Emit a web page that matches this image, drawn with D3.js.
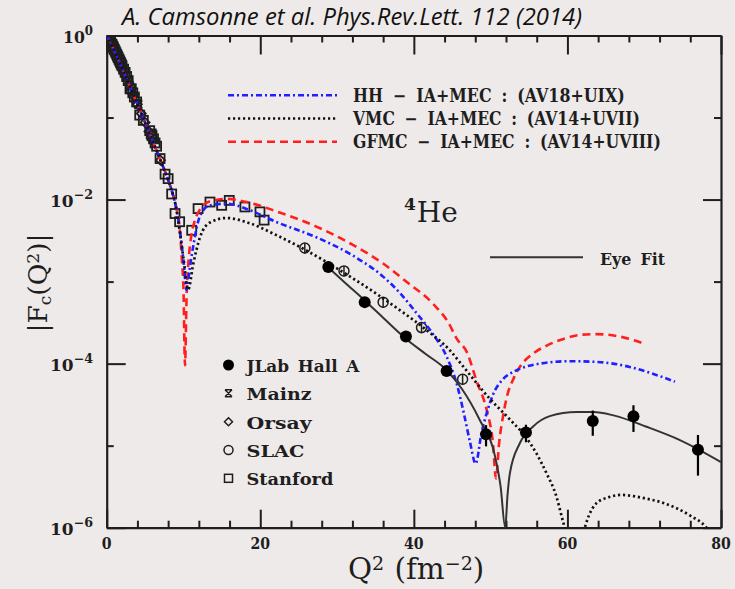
<!DOCTYPE html>
<html>
<head>
<meta charset="utf-8">
<script src="https://cdn.jsdelivr.net/npm/d3@7"></script>
<style>
  html, body { margin: 0; padding: 0; background: #efeaea; }
  svg { display: block; }
</style>
</head>
<body>
<svg id="chart" width="735" height="589"></svg>
<script>
// ---------------- data ----------------
const xMajorTicks = [0, 20, 40, 60, 80];
const xTickLabels = ["0", "20", "40", "60", "80"];
const xMinorTicks = [4, 8, 12, 16, 24, 28, 32, 36, 44, 48, 52, 56, 64, 68, 72, 76];
const yMajorTicks = [1, 1e-2, 1e-4, 1e-6];
const yTickExponents = ["0", "\u22122", "\u22124", "\u22126"];
const yMinorTicks = [1e-1, 1e-3, 1e-5];

const theoryLabels = ["HH \u2212 IA+MEC : (AV18+UIX)",
                      "VMC \u2212 IA+MEC : (AV14+UVII)",
                      "GFMC \u2212 IA+MEC : (AV14+UVIII)"];
const dataLabels = ["JLab Hall A", "Mainz", "Orsay", "SLAC", "Stanford"];

// HH - IA+MEC (AV18+UIX), blue dash-dot
const hhQ2 = [0,1,2,3,4,5,6,7,8,8.5,9,9.5,10.0,10.4,10.8,11.3,12.15,13.45,15.6,18.66,22,27.3,32,36,38.2,40.4,42.5,44.3,45.6,46.5,47.3,48.05,48.8,49.5,50.3,51.5,52.95,54.5,56.4,60.3,63.8,68.1,71,74];
const hhF  = [1,0.646,0.398,0.240,0.145,0.0871,0.0513,0.0302,0.0174,0.0126,0.00832,0.00447,1.78e-3,7.94e-4,1.41e-3,2.82e-3,6.31e-3,8.51e-3,8.91e-3,7.41e-3,5.37e-3,3.47e-3,2.09e-3,1.15e-3,7.24e-4,4.07e-4,2.29e-4,1.20e-4,5.62e-5,2.51e-5,1.12e-5,6.03e-6,1.41e-5,2.51e-5,4.17e-5,6.31e-5,7.94e-5,9.12e-5,1.0e-4,1.07e-4,1.05e-4,9.12e-5,7.59e-5,6.03e-5];

// VMC - IA+MEC (AV14+UVII), black dotted (two lobes)
const vmcQ2 = [0,1,2,3,4,5,6,7,8,8.5,9,9.5,10.0,10.6,11.28,12.15,13.45,15.6,18.66,22,25.6,31.7,35,38.2,41.5,44.7,46.3,49.9,52.5,54.7,56.0,57.3,58.5,59.5,59.8];
const vmcF  = [1,0.646,0.398,0.240,0.145,0.0871,0.0513,0.0302,0.0174,0.0126,0.00832,4.17e-3,1.91e-3,7.94e-4,1.66e-3,3.47e-3,5.25e-3,5.96e-3,5.13e-3,3.72e-3,2.51e-3,1.15e-3,7.24e-4,4.47e-4,2.63e-4,1.45e-4,9.55e-5,3.72e-5,2.09e-5,1.23e-5,7.94e-6,4.57e-6,2.51e-6,1.12e-6,8.91e-7];
const vmc2Q2 = [62.1,62.8,63.8,65.3,67.05,70,72.5,75.95,78.1,78.5];
const vmc2F  = [8.91e-7,1.41e-6,2.0e-6,2.34e-6,2.51e-6,2.29e-6,2.0e-6,1.41e-6,1.0e-6,8.91e-7];

// GFMC - IA+MEC (AV14+UVIII), red dashed
const gfmcQ2 = [0,1,2,3,4,5,6,7,8,8.5,9,9.5,9.8,10.0,10.2,10.4,10.7,11.0,11.5,12.15,13.45,15.6,18.66,22,27.3,32,36,39,42.5,44.5,45.6,46.9,48.2,49.5,50.3,50.7,51.1,51.6,52.1,53.0,53.8,55.5,57.3,59.5,61.6,63.8,67.3,70.1];
const gfmcF  = [1,0.646,0.398,0.240,0.145,0.0871,0.0513,0.0302,0.0174,0.0126,0.00832,0.00447,1.78e-3,7.94e-4,9.55e-5,6.31e-4,2.0e-3,3.55e-3,5.62e-3,7.59e-3,9.55e-3,1.02e-2,9.12e-3,7.24e-3,4.68e-3,2.82e-3,1.66e-3,1.0e-3,5.37e-4,3.16e-4,2.0e-4,1.38e-4,6.03e-5,2.69e-5,1.07e-5,3.98e-6,1.07e-5,2.24e-5,3.89e-5,6.61e-5,9.12e-5,1.32e-4,1.66e-4,2.0e-4,2.24e-4,2.29e-4,2.09e-4,1.74e-4];

// Eye Fit, solid
const eyeQ2 = [28.9,31,33.6,36,39,41.5,44.27,46.2,48.6,50.5,51.3,51.9,52.2,52.5,53.8,55.5,57.7,61.2,63.4,66,70.3,74.65,80];
const eyeF  = [1.48e-3,9.77e-4,5.89e-4,3.63e-4,2.0e-4,1.32e-4,8.32e-5,5.01e-5,2.04e-5,7.94e-6,3.16e-6,1.0e-6,2.51e-6,4.57e-6,1.07e-5,1.70e-5,2.29e-5,2.57e-5,2.57e-5,2.34e-5,1.70e-5,1.17e-5,6.31e-6];

// JLab Hall A (filled circles with error bars)
const jlabQ2  = [28.86,33.6,38.97,44.27,49.4,54.6,63.3,68.6,77.0];
const jlabF   = [1.51e-3,5.62e-4,2.14e-4,8.13e-5,1.38e-5,1.45e-5,2.0e-5,2.29e-5,8.91e-6];
const jlabErr = [7.5e-5,2.8e-5,1.1e-5,5e-6,4e-6,3.5e-6,6.8e-6,8.2e-6,4.6e-6];

// SLAC (open circles with error bars)
const slacQ2  = [25.8,30.9,36.0,41.0,46.35];
const slacF   = [2.57e-3,1.35e-3,5.62e-4,2.75e-4,6.46e-5];
const slacErr = [3.8e-4,2.0e-4,8.4e-5,4.1e-5,9.7e-6];

// Stanford (open squares)
const stanQ2 = [0.1,0.2,0.3,0.4,0.5,0.6,0.7,0.8,0.9,1.0,1.1,1.2,1.3,1.4,1.5,1.6,1.7,1.8,1.9,2.0,2.2,2.4,2.6,2.8,3.03,3.2,3.4,3.6,3.9,4.3,4.77,5.6,5.8,5.9,6.1,6.3,6.5,6.95,7.6,8.0,8.46,8.9,9.5,11.07,11.9,13.45,14.97,15.96,18.0,19.96,20.5];
const stanF  = [0.977,0.955,0.912,0.891,0.851,0.794,0.776,0.741,0.708,0.676,0.646,0.617,0.589,0.562,0.537,0.513,0.490,0.468,0.447,0.427,0.389,0.355,0.316,0.282,0.224,0.224,0.200,0.178,0.155,0.107,0.0923,0.0692,0.0631,0.0603,0.0550,0.0490,0.0447,0.0316,0.0204,0.0180,0.0117,0.00676,0.00537,0.00422,0.00776,0.00933,0.00851,0.00977,0.00813,0.00708,0.00562];

// Mainz and Orsay (inside the low-Q2 band)
const mainzQ2 = [0.25,0.5,0.75,1.0,1.25,1.5,1.75,2.0,2.25,2.5,2.75,3.0,3.3,3.7,4.1];
const mainzF  = [0.933,0.832,0.759,0.661,0.603,0.525,0.468,0.407,0.363,0.324,0.282,0.245,0.209,0.174,0.145];
const orsayQ2 = [3.5,4.0,4.5,5.0,5.5,6.0,7.0];
const orsayF  = [0.186,0.145,0.112,0.0871,0.0676,0.0525,0.0302];

// ---------------- drawing ----------------
const W = 735, H = 589;
const X0 = 106.7, X1 = 721, Y0 = 35.5, Y1 = 527.7;
const SERIF = "'DejaVu Serif', 'Liberation Serif', serif";
const INK = "#1e1e1e";

const svg = d3.select("#chart");
svg.append("rect").attr("width", W).attr("height", H).attr("fill", "#efeaea");

const x = d3.scaleLinear().domain([0, 80]).range([X0, X1]);
const y = d3.scaleLog().domain([1e-6, 1]).range([Y1, Y0]);

function fitWidth(sel, w) {
  const cur = sel.node().getComputedTextLength();
  const fs = parseFloat(sel.attr("font-size"));
  if (cur > 0) sel.attr("font-size", (fs * w / cur).toFixed(2));
  return sel;
}
// text at a fixed font size, horizontally squeezed to a target width
function boxText(parent, px, py, anchor, size, weight, targetW, build) {
  const g = parent.append("g").attr("transform", `translate(${px},${py})`);
  const t = g.append("text").attr("x", 0).attr("y", 0).attr("text-anchor", anchor)
    .attr("font-family", SERIF).attr("font-weight", weight).attr("font-size", size)
    .attr("fill", INK);
  build(t);
  const w = t.node().getComputedTextLength();
  if (targetW && w > 0) g.attr("transform", `translate(${px},${py}) scale(${(targetW / w).toFixed(4)},1)`);
  return t;
}

svg.append("clipPath").attr("id", "plotclip").append("rect")
  .attr("x", X0).attr("y", Y0).attr("width", X1 - X0).attr("height", Y1 - Y0);

// ---- axes (ticks inward, on all four sides) ----
function styleAxis(g, keepDomain) {
  g.selectAll("line").attr("stroke", INK).attr("stroke-width", 2);
  g.select(".domain").attr("stroke", INK).attr("stroke-width", 2.2);
  if (!keepDomain) g.select(".domain").remove();
  g.selectAll("text").remove();
}
const axes = svg.append("g");
axes.append("g").attr("transform", `translate(0,${Y1})`)
  .call(d3.axisBottom(x).tickValues(xMajorTicks).tickSize(-18).tickSizeOuter(0).tickFormat(""))
  .call(g => styleAxis(g, true));
axes.append("g").attr("transform", `translate(0,${Y1})`)
  .call(d3.axisBottom(x).tickValues(xMinorTicks).tickSize(-7).tickSizeOuter(0).tickFormat(""))
  .call(g => styleAxis(g, false));
axes.append("g").attr("transform", `translate(0,${Y0})`)
  .call(d3.axisTop(x).tickValues(xMajorTicks).tickSize(-19).tickSizeOuter(0).tickFormat(""))
  .call(g => styleAxis(g, true));
axes.append("g").attr("transform", `translate(0,${Y0})`)
  .call(d3.axisTop(x).tickValues(xMinorTicks).tickSize(-7).tickSizeOuter(0).tickFormat(""))
  .call(g => styleAxis(g, false));
axes.append("g").attr("transform", `translate(${X0},0)`)
  .call(d3.axisLeft(y).tickValues(yMajorTicks).tickSize(-19).tickSizeOuter(0).tickFormat(""))
  .call(g => styleAxis(g, true));
axes.append("g").attr("transform", `translate(${X0},0)`)
  .call(d3.axisLeft(y).tickValues(yMinorTicks).tickSize(-7).tickSizeOuter(0).tickFormat(""))
  .call(g => styleAxis(g, false));
axes.append("g").attr("transform", `translate(${X1},0)`)
  .call(d3.axisRight(y).tickValues(yMajorTicks).tickSize(-18).tickSizeOuter(0).tickFormat(""))
  .call(g => styleAxis(g, true));
axes.append("g").attr("transform", `translate(${X1},0)`)
  .call(d3.axisRight(y).tickValues(yMinorTicks).tickSize(-7).tickSizeOuter(0).tickFormat(""))
  .call(g => styleAxis(g, false));

// tick labels
xMajorTicks.forEach((v, i) => {
  boxText(svg, x(v), Y1 + 21.5, "middle", 16, "bold", null, t => t.text(xTickLabels[i]))
    .attr("transform", "scale(0.88,1)");
});
yMajorTicks.forEach((v, i) => {
  boxText(svg, 93, y(v) + 7, "end", 16, "bold", i === 0 ? 30 : 43, t => {
    t.append("tspan").text("10");
    t.append("tspan").attr("dy", -8).attr("font-size", 12).text(yTickExponents[i]);
  });
});

// axis titles
const xt = svg.append("text").attr("x", 348).attr("y", 579)
  .attr("font-family", SERIF).attr("font-size", 20).attr("fill", INK);
xt.append("tspan").text("Q");
xt.append("tspan").attr("dy", "-0.45em").attr("font-size", "0.65em").text("2");
xt.append("tspan").attr("dy", "0.29em").attr("dx", "0.35em").text("(fm");
xt.append("tspan").attr("dy", "-0.45em").attr("font-size", "0.65em").text("\u22122");
xt.append("tspan").attr("dy", "0.29em").text(")");
fitWidth(xt, 126);

const yt = svg.append("text").attr("transform", "translate(47,283) rotate(-90)")
  .attr("text-anchor", "middle").attr("font-family", SERIF).attr("font-size", 20).attr("fill", INK);
yt.append("tspan").text("|F");
yt.append("tspan").attr("dy", "0.25em").attr("font-size", "0.65em").text("c");
yt.append("tspan").attr("dy", "-0.16em").text("(Q");
yt.append("tspan").attr("dy", "-0.45em").attr("font-size", "0.65em").text("2");
yt.append("tspan").attr("dy", "0.29em").text(")|");
fitWidth(yt, 99);

// title
const title = svg.append("text").attr("x", 122).attr("y", 25)
  .attr("font-family", "'Open Sans', sans-serif").attr("font-style", "italic")
  .attr("font-size", 19).attr("fill", "#111").text("A. Camsonne et al. Phys.Rev.Lett. 112 (2014)");
fitWidth(title, 460);

// ---- plot content ----
const plot = svg.append("g").attr("clip-path", "url(#plotclip)");
const line = d3.line().x(d => x(d[0])).y(d => y(d[1])).curve(d3.curveMonotoneX);
const zip = (a, b) => a.map((v, i) => [v, b[i]]);

// Mainz markers
plot.append("g").selectAll("path").data(zip(mainzQ2, mainzF)).join("path")
  .attr("transform", d => `translate(${x(d[0])},${y(d[1])})`)
  .attr("d", "M-4,-4L4,4M4,-4L-4,4M-4,-4L4,-4M-4,4L4,4")
  .attr("fill", "none").attr("stroke", INK).attr("stroke-width", 1.9);
// Orsay diamonds
plot.append("g").selectAll("path").data(zip(orsayQ2, orsayF)).join("path")
  .attr("transform", d => `translate(${x(d[0])},${y(d[1])})`)
  .attr("d", "M0,-4.5L4.5,0L0,4.5L-4.5,0Z")
  .attr("fill", "none").attr("stroke", INK).attr("stroke-width", 1.8);
// Stanford squares
plot.append("g").selectAll("rect").data(zip(stanQ2, stanF)).join("rect")
  .attr("x", d => x(d[0]) - 4.5).attr("y", d => y(d[1]) - 4.5).attr("width", 9).attr("height", 9)
  .attr("fill", "none").attr("stroke", INK).attr("stroke-width", 1.8);
// SLAC circles with error bars
const slac = plot.append("g");
slac.selectAll("line").data(slacQ2.map((q, i) => [q, slacF[i], slacErr[i]])).join("line")
  .attr("x1", d => x(d[0])).attr("x2", d => x(d[0]))
  .attr("y1", d => y(d[1] + d[2])).attr("y2", d => y(d[1] - d[2]))
  .attr("stroke", INK).attr("stroke-width", 1.5);
slac.selectAll("circle").data(zip(slacQ2, slacF)).join("circle")
  .attr("cx", d => x(d[0])).attr("cy", d => y(d[1])).attr("r", 5)
  .attr("fill", "none").attr("stroke", INK).attr("stroke-width", 1.5);

// theory curves
plot.append("path").datum(zip(gfmcQ2, gfmcF)).attr("d", line)
  .attr("fill", "none").attr("stroke", "#ff1f1f").attr("stroke-width", 2.6)
  .attr("stroke-dasharray", "8,5");
plot.append("path").datum(zip(hhQ2, hhF)).attr("d", line)
  .attr("fill", "none").attr("stroke", "#1f1fff").attr("stroke-width", 2.6)
  .attr("stroke-dasharray", "6,3,2,3");
[zip(vmcQ2, vmcF), zip(vmc2Q2, vmc2F)].forEach(seg => {
  plot.append("path").datum(seg).attr("d", line)
    .attr("fill", "none").attr("stroke", "#111").attr("stroke-width", 2.7)
    .attr("stroke-dasharray", "2.2,2.8");
});
plot.append("path").datum(zip(eyeQ2, eyeF)).attr("d", line)
  .attr("fill", "none").attr("stroke", "#333").attr("stroke-width", 2);

// JLab points with error bars
const jl = plot.append("g");
jl.selectAll("line").data(jlabQ2.map((q, i) => [q, jlabF[i], jlabErr[i]])).join("line")
  .attr("x1", d => x(d[0])).attr("x2", d => x(d[0]))
  .attr("y1", d => y(d[1] + d[2])).attr("y2", d => y(d[1] - d[2]))
  .attr("stroke", "#000").attr("stroke-width", 2.2);
jl.selectAll("circle").data(zip(jlabQ2, jlabF)).join("circle")
  .attr("cx", d => x(d[0])).attr("cy", d => y(d[1])).attr("r", 6).attr("fill", "#000");

// ---- legends ----
const legStyles = [
  { stroke: "#1f1fff", dash: "6,3,2,3" },
  { stroke: "#111", dash: "2.2,2.8" },
  { stroke: "#ff1f1f", dash: "8,5" }
];
const legBase = [101.7, 125, 148.3];
const legW = [272, 287, 308];
theoryLabels.forEach((lab, i) => {
  svg.append("line").attr("x1", 228).attr("x2", 337)
    .attr("y1", legBase[i] - 6.5).attr("y2", legBase[i] - 6.5)
    .attr("stroke", legStyles[i].stroke).attr("stroke-width", 2.6)
    .attr("stroke-dasharray", legStyles[i].dash);
  boxText(svg, 353, legBase[i], "start", 18, "bold", legW[i],
    t => t.attr("word-spacing", 5).text(lab));
});

// Eye fit legend
svg.append("line").attr("x1", 490).attr("x2", 583).attr("y1", 257.3).attr("y2", 257.3)
  .attr("stroke", "#333").attr("stroke-width", 2);
boxText(svg, 600, 264.5, "start", 17.5, "bold", 65, t => t.attr("word-spacing", 4).text("Eye Fit"));

// 4He label
const he = svg.append("text").attr("x", 404).attr("y", 221.5)
  .attr("font-family", SERIF).attr("font-size", 28).attr("fill", INK);
he.append("tspan").attr("font-size", 17).attr("font-weight", "bold").attr("dy", -12).text("4");
he.append("tspan").attr("dy", 12).attr("dx", 1).text("He");

// data legend
const mkY = [365, 393.3, 421.7, 450, 478.3];
const dataW = [113, 65, 65, 58, 87];
const mk = svg.append("g");
mk.append("circle").attr("cx", 228.5).attr("cy", mkY[0]).attr("r", 5.5).attr("fill", "#000");
mk.append("path").attr("transform", `translate(228.5,${mkY[1]})`)
  .attr("d", "M-3.5,-3.5L3.5,3.5M3.5,-3.5L-3.5,3.5M-3.5,-3.5L3.5,-3.5M-3.5,3.5L3.5,3.5")
  .attr("fill", "none").attr("stroke", INK).attr("stroke-width", 1.5);
mk.append("path").attr("transform", `translate(228.5,${mkY[2]})`)
  .attr("d", "M0,-4L4,0L0,4L-4,0Z").attr("fill", "none").attr("stroke", INK).attr("stroke-width", 1.5);
mk.append("circle").attr("cx", 228.5).attr("cy", mkY[3]).attr("r", 4.5)
  .attr("fill", "none").attr("stroke", INK).attr("stroke-width", 1.5);
mk.append("rect").attr("x", 224.5).attr("y", mkY[4] - 4).attr("width", 8).attr("height", 8)
  .attr("fill", "none").attr("stroke", INK).attr("stroke-width", 1.5);
dataLabels.forEach((lab, i) => {
  boxText(svg, 246.5, mkY[i] + 7, "start", 17.5, "bold", dataW[i],
    t => t.attr("word-spacing", 3).text(lab));
});
</script>
</body>
</html>
